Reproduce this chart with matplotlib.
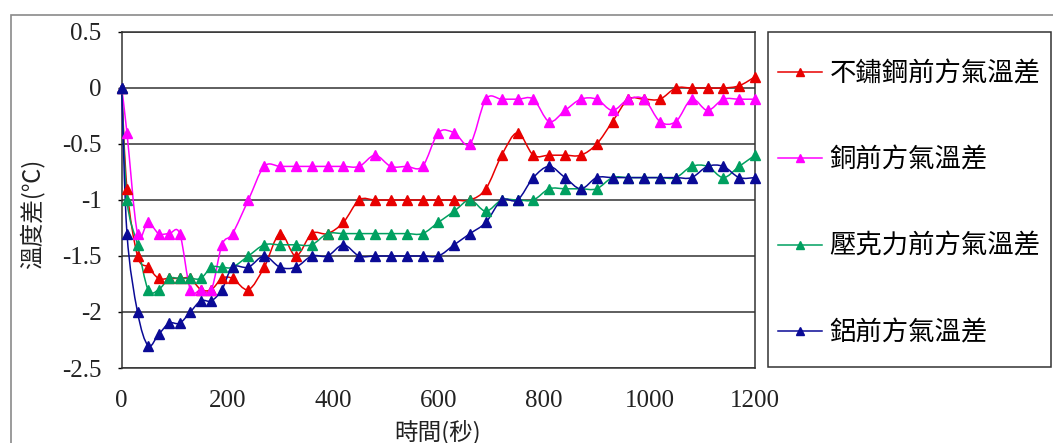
"""
Temperature difference in front of four plate materials over time
"""

import matplotlib
matplotlib.use('Agg')
import matplotlib.pyplot as plt
from matplotlib.path import Path
from matplotlib.patches import PathPatch, Rectangle
from matplotlib.lines import Line2D

plt.rcParams['axes.unicode_minus'] = False

W, H = 1053, 443

# sample times (s)
time_s = [0, 10, 30, 50, 70, 90, 110, 130, 150, 170, 190, 210,
          240, 270, 300, 330, 360, 390, 420, 450, 480, 510, 540, 570,
          600, 630, 660, 690, 720, 750, 780, 810, 840, 870, 900, 930,
          960, 990, 1020, 1050, 1080, 1110, 1140, 1170, 1200]

# temperature differences (C)
stainless = [0, -0.9, -1.5, -1.6, -1.7, -1.7, -1.7, -1.7, -1.8, -1.8, -1.7, -1.7,
             -1.8, -1.6, -1.3, -1.5, -1.3, -1.3, -1.2, -1.0, -1.0, -1.0, -1.0, -1.0,
             -1.0, -1.0, -1.0, -0.9, -0.6, -0.4, -0.6, -0.6, -0.6, -0.6, -0.5, -0.3,
             -0.1, -0.1, -0.1, 0.0, 0.0, 0.0, 0.0, 0.02, 0.1]
copper = [0, -0.4, -1.3, -1.2, -1.3, -1.3, -1.3, -1.8, -1.8, -1.8, -1.4, -1.3,
          -1.0, -0.7, -0.7, -0.7, -0.7, -0.7, -0.7, -0.7, -0.6, -0.7, -0.7, -0.7,
          -0.4, -0.4, -0.5, -0.1, -0.1, -0.1, -0.1, -0.3, -0.2, -0.1, -0.1, -0.2,
          -0.1, -0.1, -0.3, -0.3, -0.1, -0.2, -0.1, -0.1, -0.1]
acrylic = [0, -1.0, -1.4, -1.8, -1.8, -1.7, -1.7, -1.7, -1.7, -1.6, -1.6, -1.6,
           -1.5, -1.4, -1.4, -1.4, -1.4, -1.3, -1.3, -1.3, -1.3, -1.3, -1.3, -1.3,
           -1.2, -1.1, -1.0, -1.1, -1.0, -1.0, -1.0, -0.9, -0.9, -0.9, -0.9, -0.8,
           -0.8, -0.8, -0.8, -0.8, -0.7, -0.7, -0.8, -0.7, -0.6]
aluminum = [0, -1.3, -2.0, -2.3, -2.2, -2.1, -2.1, -2.0, -1.9, -1.9, -1.8, -1.6,
            -1.6, -1.5, -1.6, -1.6, -1.5, -1.5, -1.4, -1.5, -1.5, -1.5, -1.5, -1.5,
            -1.5, -1.4, -1.3, -1.2, -1.0, -1.0, -0.8, -0.7, -0.8, -0.9, -0.8, -0.8,
            -0.8, -0.8, -0.8, -0.8, -0.8, -0.7, -0.7, -0.8, -0.8]

labels = ['不鏽鋼前方氣溫差', '銅前方氣溫差', '壓克力前方氣溫差', '鋁前方氣溫差']
colors = ['#e80000', '#ff00ff', '#00a060', '#0a0a96']
series = [stainless, copper, acrylic, aluminum]

y_ticks = [-2.5, -2, -1.5, -1, -0.5, 0, 0.5]
x_ticks = [0, 200, 400, 600, 800, 1000, 1200]

CJK = ['Noto Sans CJK TC', 'DejaVu Sans']


def smooth_path(x, y):
    # Catmull-Rom style cubic Bezier through every point (Excel "smoothed line")
    pts = list(zip(x, y))
    verts = [pts[0]]
    codes = [Path.MOVETO]
    n = len(pts)
    for i in range(n - 1):
        p0 = pts[max(i - 1, 0)]
        p1 = pts[i]
        p2 = pts[i + 1]
        p3 = pts[min(i + 2, n - 1)]
        c1 = (p1[0] + (p2[0] - p0[0]) / 6, p1[1] + (p2[1] - p0[1]) / 6)
        c2 = (p2[0] - (p3[0] - p1[0]) / 6, p2[1] - (p3[1] - p1[1]) / 6)
        verts += [c1, c2, p2]
        codes += [Path.CURVE4] * 3
    return Path(verts, codes)


fig = plt.figure(figsize=(W / 100, H / 100), dpi=100)
ax = fig.add_axes([121.7 / W, 1 - 368 / H, (755 - 121.7) / W, (368 - 32) / H])

handles = []
for vals, c, lab in zip(series, colors, labels):
    ax.add_patch(PathPatch(smooth_path(time_s, vals), fill=False,
                           edgecolor=c, lw=1.1, clip_on=False, zorder=3))
    ax.plot(time_s, vals, ls='none', marker='^', ms=6.5, color=c,
            clip_on=False, zorder=4)
    handles.append(Line2D([], [], color=c, lw=1.1, marker='^', ms=5.5))

ax.set_xlim(0, 1200)
ax.set_ylim(-2.5, 0.5)
ax.set_xticks(x_ticks)
ax.set_yticks(y_ticks)
ax.set_yticklabels(['{:g}'.format(v) for v in y_ticks])
for lbl in ax.get_xticklabels() + ax.get_yticklabels():
    lbl.set_fontfamily('Liberation Serif')
    lbl.set_fontsize(18)
    lbl.set_color('#222222')
ax.tick_params(axis='y', direction='out', length=3, width=1, pad=11.5)
ax.tick_params(axis='x', length=0, pad=16)
ax.yaxis.grid(True, color='#333333', lw=1.1)
ax.set_axisbelow(True)
for sp in ax.spines.values():
    sp.set_color('#333333')
    sp.set_linewidth(1.1)

fig.text(438 / W, 1 - 432 / H, '時間(秒)', family=CJK, fontsize=17,
         ha='center', va='center', color='#222222')
fig.text(32 / W, 1 - 214 / H, '溫度差(℃)', family=CJK, fontsize=17,
         ha='center', va='center', rotation=90, color='#222222')

# legend box
fig.patches.append(Rectangle((768 / W, 1 - 367 / H), (1051 - 768) / W, (367 - 32) / H,
                             transform=fig.transFigure, fill=False,
                             edgecolor='#333333', lw=1.1))
fig.legend(handles, labels, loc='upper left',
           bbox_to_anchor=(778 / W, 1 - 60 / H), frameon=False,
           prop={'family': CJK, 'size': 19}, handlelength=1.65,
           handletextpad=0.3, labelspacing=2.25, borderpad=0, borderaxespad=0)

# outer chart border
fig.patches.append(Rectangle((11 / W, -0.5), 2, 1.5 - 15 / H,
                             transform=fig.transFigure, fill=False,
                             edgecolor='#8a8a8a', lw=1.2))

plt.savefig('out.png', dpi=100)
